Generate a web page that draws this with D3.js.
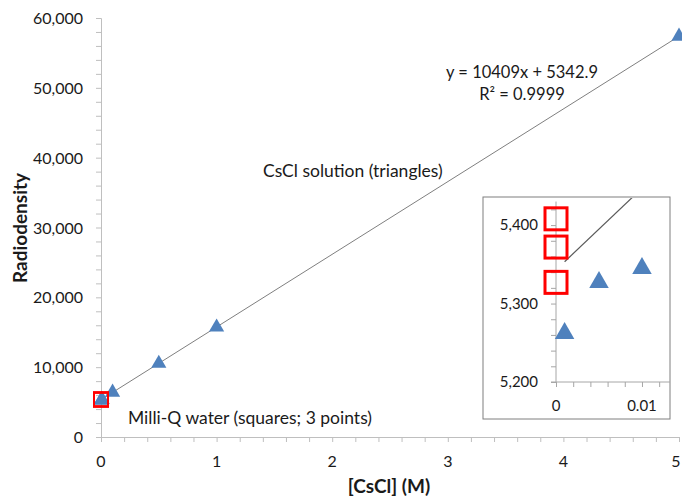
<!DOCTYPE html>
<html>
<head>
<meta charset="utf-8">
<script src="https://cdn.jsdelivr.net/npm/d3@7"></script>
<style>
  body { margin: 0; background: #fff; }
  text { font-family: Lato, "Open Sans", sans-serif; fill: #1a1a1a; }
</style>
</head>
<body>
<script>
// data
var triX = [0.001, 0.005, 0.01, 0.1, 0.5, 1, 5];
var triY = [5262, 5327, 5345, 6390, 10530, 15730, 57380];
var sqX = [0, 0, 0];
var sqY = [5408, 5372, 5327];
var fitSlope = 10409, fitIntercept = 5342.9;
var xTicks = [0, 1, 2, 3, 4, 5];
var yTicks = [0, 10000, 20000, 30000, 40000, 50000, 60000];
var insetXTicks = [0, 0.01];
var insetYTicks = [5200, 5300, 5400];

(function(){
    var w = 682, h = 498;
    var blue = "#4f81bd", red = "#ff0000", axisCol = "#bfbfbf";
    var fmt = d3.format(",");

    var svg = d3.select("body").append("svg")
        .attr("width", w).attr("height", h);

    drawMain();
    drawInset();

    function drawMain(){
        var x = d3.scaleLinear().domain([0, 5]).range([101, 679]);
        var y = d3.scaleLinear().domain([0, 60000]).range([437, 18]);

        var xAxis = svg.append("g").attr("transform", "translate(0," + y(0) + ")")
            .call(d3.axisBottom(x).tickValues(d3.range(0, 5.01, 0.2)).tickSize(5).tickFormat(""));
        var yAxis = svg.append("g").attr("transform", "translate(" + x(0) + ",0)")
            .call(d3.axisLeft(y).tickValues(d3.range(0, 60001, 2000)).tickSize(5).tickFormat(""));
        [xAxis, yAxis].forEach(function(a){
            a.selectAll("path,line").attr("stroke", axisCol);
        });

        // last label kept inside the window
        svg.selectAll("text.xt").data(xTicks).enter().append("text")
            .attr("x", function(d){ return Math.min(x(d), w - 6); }).attr("y", 467)
            .attr("text-anchor", "middle").attr("font-size", 16)
            .text(function(d){ return d; });
        svg.selectAll("text.yt").data(yTicks).enter().append("text")
            .attr("x", 83).attr("y", function(d){ return y(d) + 6; })
            .attr("text-anchor", "end").attr("font-size", 16)
            .text(function(d){ return fmt(d); });

        svg.append("text").attr("x", 389).attr("y", 493)
            .attr("text-anchor", "middle").attr("font-size", 19).attr("font-weight", "bold")
            .text("[CsCl] (M)");
        svg.append("text").attr("transform", "translate(27,228) rotate(-90)")
            .attr("text-anchor", "middle").attr("font-size", 19).attr("font-weight", "bold")
            .text("Radiodensity");

        // trend line
        var x0 = d3.min(triX), x1 = d3.max(triX);
        svg.append("line")
            .attr("x1", x(x0)).attr("y1", y(fitSlope * x0 + fitIntercept))
            .attr("x2", x(x1)).attr("y2", y(fitSlope * x1 + fitIntercept))
            .attr("stroke", "#7f7f7f").attr("stroke-width", 1);

        svg.selectAll("path.tri").data(triX).enter().append("path")
            .attr("d", d3.symbol().type(d3.symbolTriangle).size(100))
            .attr("transform", function(d, i){ return "translate(" + x(d) + "," + y(triY[i]) + ")"; })
            .attr("fill", blue);

        svg.selectAll("rect.sq").data(sqX).enter().append("rect")
            .attr("x", function(d){ return x(d) - 7; })
            .attr("y", function(d, i){ return y(sqY[i]) - 7; })
            .attr("width", 14).attr("height", 14)
            .attr("fill", "none").attr("stroke", red).attr("stroke-width", 2);

        svg.append("text").attr("x", 522).attr("y", 78).attr("text-anchor", "middle")
            .attr("font-size", 16.5).text("y = 10409x + 5342.9");
        svg.append("text").attr("x", 522).attr("y", 100).attr("text-anchor", "middle")
            .attr("font-size", 16.5).text("R² = 0.9999");
        svg.append("text").attr("x", 263).attr("y", 177)
            .attr("font-size", 17.5).text("CsCl solution (triangles)");
        svg.append("text").attr("x", 128).attr("y", 424)
            .attr("font-size", 17.5).text("Milli-Q water (squares; 3 points)");
    }

    function drawInset(){
        var g = svg.append("g");
        g.append("rect").attr("x", 483).attr("y", 197).attr("width", 187).attr("height", 222)
            .attr("fill", "#fff").attr("stroke", "#7f7f7f").attr("stroke-width", 1);

        var x = d3.scaleLinear().domain([0, 0.01326]).range([556, 670]);
        var y = d3.scaleLinear().domain([5200, 5432]).range([382, 200]);

        var xAxis = g.append("g").attr("transform", "translate(0," + y(5200) + ")")
            .call(d3.axisBottom(x).tickValues(d3.range(0, 0.0133, 0.002)).tickSize(5).tickFormat(""));
        var yAxis = g.append("g").attr("transform", "translate(" + x(0) + ",0)")
            .call(d3.axisLeft(y).tickValues(d3.range(5200, 5421, 20)).tickSize(5).tickFormat(""));
        [xAxis, yAxis].forEach(function(a){
            a.selectAll("path,line").attr("stroke", "#a6a6a6");
        });
        yAxis.select("path").attr("d", "M-5," + y(5200) + "H0V" + y(5430));
        xAxis.select("path").attr("d", "M" + x(0) + ",0H670");

        g.selectAll("text.ixt").data(insetXTicks).enter().append("text")
            .attr("x", function(d){ return x(d); }).attr("y", 411)
            .attr("text-anchor", "middle").attr("font-size", 15)
            .text(function(d){ return d; });
        g.selectAll("text.iyt").data(insetYTicks).enter().append("text")
            .attr("x", 538).attr("y", function(d){ return y(d) + 5; })
            .attr("text-anchor", "end").attr("font-size", 15)
            .text(function(d){ return fmt(d); });

        svg.append("clipPath").attr("id", "insetClip").append("rect")
            .attr("x", 556).attr("y", 198).attr("width", 114).attr("height", 184);
        var x0 = d3.min(triX), x1 = 0.02;
        g.append("line").attr("clip-path", "url(#insetClip)")
            .attr("x1", x(x0)).attr("y1", y(fitSlope * x0 + fitIntercept))
            .attr("x2", x(x1)).attr("y2", y(fitSlope * x1 + fitIntercept))
            .attr("stroke", "#595959").attr("stroke-width", 1.2);

        g.selectAll("path.itri").data(triX.filter(function(d){ return d <= 0.0133; })).enter().append("path")
            .attr("d", d3.symbol().type(d3.symbolTriangle).size(165))
            .attr("transform", function(d, i){ return "translate(" + x(d) + "," + y(triY[i]) + ")"; })
            .attr("fill", blue);

        g.selectAll("rect.isq").data(sqX).enter().append("rect")
            .attr("x", function(d){ return x(d) - 11; })
            .attr("y", function(d, i){ return y(sqY[i]) - 11; })
            .attr("width", 22).attr("height", 22)
            .attr("fill", "none").attr("stroke", red).attr("stroke-width", 3);
    }
}());
</script>
</body>
</html>
